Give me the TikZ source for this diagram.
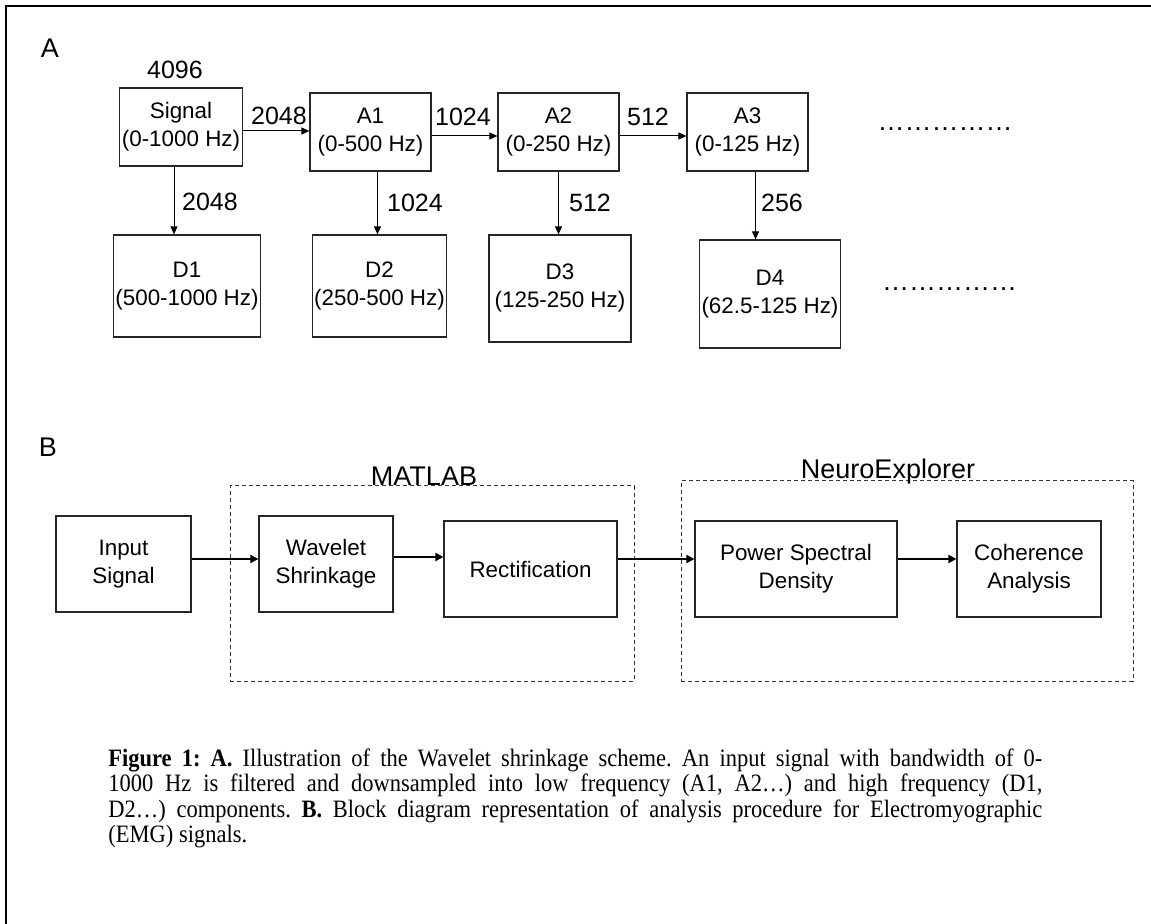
\documentclass[tikz,border=0pt]{standalone}
\usepackage{fontspec}
\setmainfont{Liberation Serif}
\setsansfont{Liberation Sans}
\newfontfamily\capfont[FakeStretch=0.9]{Liberation Serif}
\usetikzlibrary{arrows.meta}
\tikzset{
  box/.style     = {rectangle, draw=black!85, line width=0.6pt, inner sep=1pt,
                    align=center, font=\sffamily\fontsize{11.2}{14}\selectfont},
  group/.style   = {rectangle, draw=black!80, dash pattern=on 2pt off 1.5pt,
                    line width=0.5pt},
  num/.style     = {font=\sffamily\fontsize{12.5}{14}\selectfont, inner sep=1pt},
  tag/.style     = {font=\sffamily\fontsize{13.5}{16}\selectfont, inner sep=1pt},
  flow/.style    = {-{Triangle[length=4pt,width=3.5pt]}, line width=0.5pt},
  bigflow/.style = {-{Triangle[length=4pt,width=4pt]}, line width=1.4pt},
}

\begin{document}
\begin{tikzpicture}[x=0.5pt, y=-0.5pt]
  \useasboundingbox (0,0) rectangle (1151,924);
  % frame (only top and left edges show)
  \draw[line width=1pt] (6,924) -- (6,6) -- (1151,6);

  % A: wavelet decomposition
  \node[tag] (labA)  at (50,48)  {A};
  \node[num] (n4096) at (175,70) {4096};

  \node[box, minimum width=60pt,   minimum height=39pt] (signal) at (181,127)   {Signal\\(0-1000 Hz)};
  \node[box, minimum width=60.5pt, minimum height=39pt] (a1)     at (370.5,132) {A1\\(0-500 Hz)};
  \node[box, minimum width=60.5pt, minimum height=39pt] (a2)     at (558.5,132) {A2\\(0-250 Hz)};
  \node[box, minimum width=60.5pt, minimum height=39pt] (a3)     at (747.5,132) {A3\\(0-125 Hz)};

  \node[box, minimum width=71pt,   minimum height=51pt]   (d1) at (187,286)   {D1\\(500-1000 Hz)};
  \node[box, minimum width=64.5pt, minimum height=51pt]   (d2) at (379.5,286) {D2\\(250-500 Hz)};
  \node[box, minimum width=71pt,   minimum height=53.5pt] (d3) at (560,288.5) {D3\\(125-250 Hz)};
  \node[box, minimum width=68pt,   minimum height=54pt]   (d4) at (770,294)   {D4\\(62.5-125 Hz)};

  \draw[flow] ([yshift=-2pt]signal.east) -- ([yshift=-2pt]signal.east -| a1.west);
  \draw[flow] ([yshift=-2pt]a1.east) -- ([yshift=-2pt]a1.east -| a2.west);
  \draw[flow] ([yshift=-2pt]a2.east) -- ([yshift=-2pt]a2.east -| a3.west);

  \draw[flow] ([xshift=-3.5pt]signal.south) -- ([xshift=-3.5pt]signal.south |- d1.north);
  \draw[flow] ([xshift=3.5pt]a1.south) -- ([xshift=3.5pt]a1.south |- d2.north);
  \draw[flow] (a2.south) -- (a2.south |- d3.north);
  \draw[flow] ([xshift=4pt]a3.south) -- ([xshift=4pt]a3.south |- d4.north);

  \node[num] (h1) at (279,116) {2048};
  \node[num] (h2) at (463,117) {1024};
  \node[num] (h3) at (648,117) {512};
  \node[num] (v1) at (210,202) {2048};
  \node[num] (v2) at (415,203) {1024};
  \node[num] (v3) at (590,203) {512};
  \node[num] (v4) at (782,203) {256};

  \node[tag, anchor=base] (moreA) at (945,131)   {……………};
  \node[tag, anchor=base] (moreD) at (949.5,291) {……………};

  % B: processing chain
  \node[tag] (labB) at (48,447) {B};

  \node[group, minimum width=202pt, minimum height=97.5pt] (matlab) at (432,583.5) {};
  \node[group, minimum width=226pt, minimum height=100pt]  (neuro)  at (907,581)   {};
  \node[tag] (matlabLab) at (424,476) {MATLAB};
  \node[tag] (neuroLab)  at (888,472) {NeuroExplorer};

  \node[box, minimum width=67.5pt, minimum height=48pt] (input)   at (123.5,564) {Input\\Signal};
  \node[box, minimum width=67pt,   minimum height=48pt] (wavelet) at (326,564)   {Wavelet\\Shrinkage};
  \node[box, minimum width=86.5pt, minimum height=48pt] (rect)    at (530.5,569) {Rectification};
  \node[box, minimum width=101pt,  minimum height=48pt] (psd)     at (796,569)   {Power Spectral\\Density};
  \node[box, minimum width=72pt,   minimum height=48pt] (coh)     at (1029,569)  {Coherence\\Analysis};

  \draw[bigflow] ([yshift=2.5pt]input.east) -- ([yshift=2.5pt]input.east -| wavelet.west);
  \draw[bigflow] ([yshift=3.5pt]wavelet.east) -- ([yshift=3.5pt]wavelet.east -| rect.west);
  \draw[bigflow] ([yshift=5pt]rect.east) -- ([yshift=5pt]rect.east -| psd.west);
  \draw[bigflow] ([yshift=5pt]psd.east) -- ([yshift=5pt]psd.east -| coh.west);

  % caption
  \node[anchor=north west, inner sep=0pt, text width=467pt, align=justify,
        font=\capfont\fontsize{12.5}{12.8}\selectfont\frenchspacing] (caption) at (108,748)
    {\textbf{Figure 1: A.} Illustration of the Wavelet shrinkage scheme. An input signal with bandwidth of 0-\linebreak
     1000 Hz is filtered and downsampled into low frequency (A1, A2…) and high frequency (D1,\linebreak
     D2…) components. \textbf{B.} Block diagram representation of analysis procedure for Electromyographic\linebreak
     (EMG) signals.};
\end{tikzpicture}
\end{document}
